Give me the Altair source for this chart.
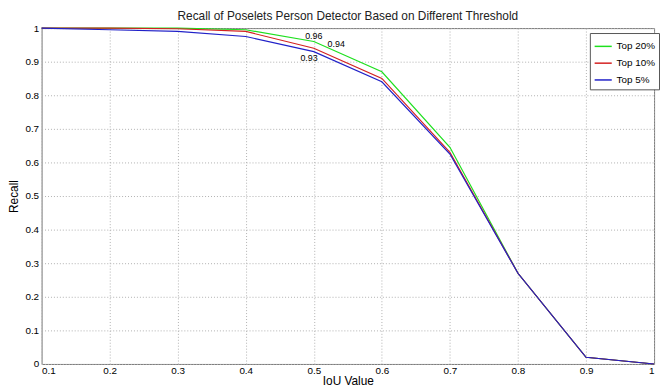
import altair as alt
import pandas as pd

iou = [0.1, 0.2, 0.3, 0.4, 0.5, 0.6, 0.7, 0.8, 0.9, 1.0]
top20 = [1.0, 1.0, 1.0, 0.995, 0.96, 0.87, 0.645, 0.27, 0.02, 0.0]
top10 = [1.0, 1.0, 0.998, 0.99, 0.94, 0.85, 0.63, 0.27, 0.02, 0.0]
top5 = [1.0, 0.995, 0.99, 0.975, 0.93, 0.84, 0.625, 0.27, 0.02, 0.0]
series = ["Top 20%", "Top 10%", "Top 5%"]
colors = ["#1ee01e", "#d42020", "#2020c8"]

ann_text = ["0.96", "0.94", "0.93"]
ann_x = [0.5, 0.533, 0.493]
ann_y = [0.975, 0.953, 0.91]

rows = []
for name, vals in zip(series, [top20, top10, top5]):
    for x, y in zip(iou, vals):
        rows.append({"IoU": x, "Recall": y, "Series": name})
df = pd.DataFrame(rows)
ann = pd.DataFrame({"IoU": ann_x, "Recall": ann_y, "t": ann_text})

FONT = "Liberation Sans"

xscale = alt.Scale(domain=[0.1, 1.0], nice=False, zero=False)
yscale = alt.Scale(domain=[0, 1], nice=False)
cscale = alt.Scale(domain=series, range=colors)

xaxis = alt.Axis(title="IoU Value", values=iou, format="~g", grid=True,
                 gridDash=[1, 2], gridColor="#b0b0b0", ticks=False,
                 labelPadding=2, titlePadding=0, domain=False)
yaxis = alt.Axis(title="Recall", values=[i / 10 for i in range(11)], format="~g",
                 grid=True, gridDash=[1, 2], gridColor="#b0b0b0", ticks=False,
                 labelPadding=3, titlePadding=4, domain=False)

X = alt.X("IoU:Q", scale=xscale, axis=xaxis)
Y = alt.Y("Recall:Q", scale=yscale, axis=yaxis)

layers = []
for i, name in enumerate(series):
    layers.append(
        alt.Chart(df).transform_filter(alt.datum.Series == name)
        .mark_line(strokeWidth=1.2)
        .encode(
            x=X, y=Y,
            color=alt.Color("Series:N", scale=cscale, sort=series,
                            legend=alt.Legend(title=None, orient="none",
                                              legendX=555, legendY=5,
                                              symbolType="stroke",
                                              symbolSize=300, symbolStrokeWidth=1.5,
                                              labelFontSize=10, labelFont=FONT,
                                              labelColor="#000",
                                              strokeColor="#555", fillColor="white",
                                              padding=4, rowPadding=2)),
        )
    )

text = alt.Chart(ann).mark_text(fontSize=9, font=FONT, color="#000").encode(
    x=X, y=Y, text="t:N"
)

chart = alt.layer(*layers, text).properties(
    width=620, height=340,
    padding={"left": 0, "top": 0, "right": 0, "bottom": 0},
    title=alt.TitleParams("Recall of Poselets Person Detector Based on Different Threshold",
                          fontSize=12, fontWeight="normal", font=FONT,
                          color="#222", offset=0),
).configure_view(stroke="#777", strokeWidth=1).configure_axis(
    labelFont=FONT, labelFontSize=10, labelColor="#000",
    titleFont=FONT, titleFontSize=12, titleFontWeight="normal", titleColor="#000",
)

chart.save("out.html", embed_options={"renderer": "svg", "actions": False})
